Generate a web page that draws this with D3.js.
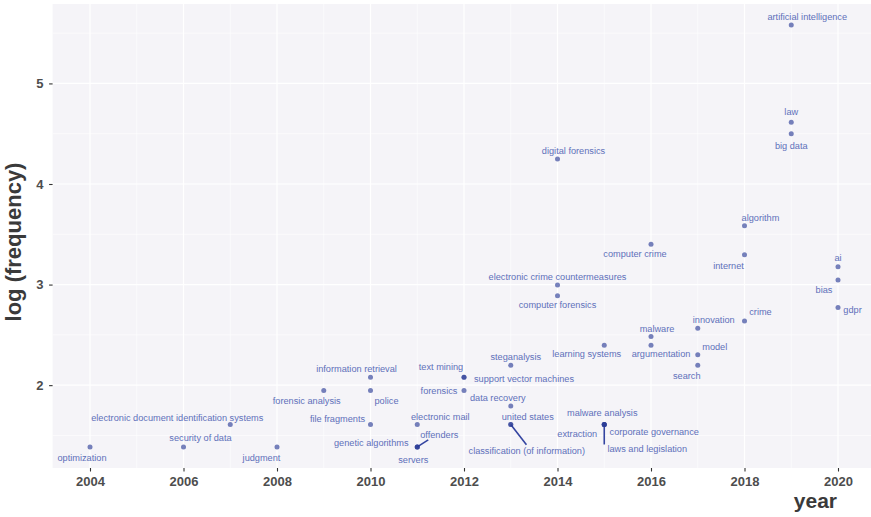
<!DOCTYPE html>
<html>
<head>
<meta charset="utf-8">
<script src="https://cdn.jsdelivr.net/npm/d3@7/dist/d3.min.js"></script>
<style>
  body { margin: 0; background: #ffffff; }
  svg { display: block; }
</style>
</head>
<body>
<svg id="chart" width="871" height="517"></svg>
<script>
// Keyword first appearance year and log(frequency)
const terms = [
  "optimization", "security of data", "electronic document identification systems", "judgment",
  "forensic analysis", "information retrieval", "police", "file fragments",
  "electronic mail", "genetic algorithms", "offenders", "servers",
  "text mining", "support vector machines", "forensics",
  "steganalysis", "data recovery", "united states", "classification (of information)",
  "digital forensics", "electronic crime countermeasures", "computer forensics",
  "learning systems", "malware analysis", "extraction", "corporate governance", "laws and legislation",
  "computer crime", "malware", "argumentation",
  "innovation", "model", "search",
  "algorithm", "internet", "crime",
  "artificial intelligence", "law", "big data",
  "ai", "bias", "gdpr"
];
const years = [
  2004, 2006, 2007, 2008,
  2009, 2010, 2010, 2010,
  2011, 2011, 2011, 2011,
  2012, 2012, 2012,
  2013, 2013, 2013, 2013,
  2014, 2014, 2014,
  2015, 2015, 2015, 2015, 2015,
  2016, 2016, 2016,
  2017, 2017, 2017,
  2018, 2018, 2018,
  2019, 2019, 2019,
  2020, 2020, 2020
];
const logFrequency = [
  1.386, 1.386, 1.609, 1.386,
  1.946, 2.079, 1.946, 1.609,
  1.609, 1.386, 1.386, 1.386,
  2.079, 2.079, 1.946,
  2.197, 1.792, 1.609, 1.609,
  4.248, 2.996, 2.890,
  2.398, 1.609, 1.609, 1.609, 1.609,
  3.401, 2.485, 2.398,
  2.565, 2.303, 2.197,
  3.584, 3.296, 2.639,
  5.580, 4.615, 4.500,
  3.178, 3.045, 2.773
];
const xTicks = [2004, 2006, 2008, 2010, 2012, 2014, 2016, 2018, 2020];
const yTicks = [2, 3, 4, 5];

// Label placement: offset of each label's centre from its point (px)
const labelOffsets = {
  "optimization": [-8, 11],
  "security of data": [17, -9],
  "electronic document identification systems": [-53, -7],
  "judgment": [-15.5, 11],
  "forensic analysis": [-17, 10],
  "information retrieval": [-14, -8],
  "police": [16, 10],
  "file fragments": [-33, -6],
  "electronic mail": [23, -8],
  "genetic algorithms": [-46, -4],
  "offenders": [22, -12],
  "servers": [-4, 13],
  "text mining": [-23, -10],
  "support vector machines": [60, 2],
  "forensics": [-25, 0],
  "steganalysis": [5, -9],
  "data recovery": [-13, -8],
  "united states": [17, -8],
  "classification (of information)": [16, 26.6],
  "digital forensics": [16, -8],
  "electronic crime countermeasures": [0, -8],
  "computer forensics": [0, 9.4],
  "learning systems": [-17.5, 9],
  "malware analysis": [-2, -12],
  "extraction": [-27, 9],
  "corporate governance": [50, 7],
  "laws and legislation": [43, 24],
  "computer crime": [-16, 10],
  "malware": [6, -8],
  "argumentation": [10, 9],
  "innovation": [16, -9],
  "model": [17, -8],
  "search": [-11, 10],
  "algorithm": [16, -8],
  "internet": [-16, 11],
  "crime": [16, -9],
  "artificial intelligence": [16, -8],
  "law": [0, -10],
  "big data": [0, 11.7],
  "ai": [0, -8.7],
  "bias": [-14, 10],
  "gdpr": [14.5, 2]
};
// Leader lines for labels pushed away from crowded points (end offset from point, px)
const leaderEnds = {
  "offenders": [11, -7],
  "classification (of information)": [15.7, 20.3],
  "laws and legislation": [0, 20]
};

const data = terms.map((t, i) => ({ term: t, year: years[i], value: logFrequency[i] }));

const svg = d3.select("#chart");
const panel = { left: 52.6, top: 4, right: 875.4, bottom: 468 };

// ggplot-style 5% expansion of the data range
function expand(ext, f) {
  const pad = (ext[1] - ext[0]) * f;
  return [ext[0] - pad, ext[1] + pad];
}
const x = d3.scaleLinear()
  .domain(expand(d3.extent(years), 0.05))
  .range([panel.left, panel.right]);
const y = d3.scaleLinear()
  .domain(expand(d3.extent(logFrequency), 0.05))
  .range([panel.bottom, panel.top]);

// Panel background
svg.append("rect")
  .attr("x", panel.left).attr("y", panel.top)
  .attr("width", panel.right - panel.left)
  .attr("height", panel.bottom - panel.top)
  .attr("fill", "#f5f4f8");

const grid = svg.append("g");
// Minor grid lines at midpoints between major breaks
const xMinor = d3.range(xTicks[0] - 1, xTicks[xTicks.length - 1] + 2, 2)
  .filter(v => x(v) >= panel.left && x(v) <= panel.right);
const yMinor = d3.range(yTicks[0] - 0.5, yTicks[yTicks.length - 1] + 1, 1)
  .filter(v => y(v) >= panel.top && y(v) <= panel.bottom);
grid.selectAll(".xminor").data(xMinor).join("line")
  .attr("x1", d => x(d)).attr("x2", d => x(d))
  .attr("y1", panel.top).attr("y2", panel.bottom)
  .attr("stroke", "#ffffff").attr("stroke-width", 0.6);
grid.selectAll(".yminor").data(yMinor).join("line")
  .attr("x1", panel.left).attr("x2", panel.right)
  .attr("y1", d => y(d)).attr("y2", d => y(d))
  .attr("stroke", "#ffffff").attr("stroke-width", 0.6);
grid.selectAll(".xmajor").data(xTicks).join("line")
  .attr("x1", d => x(d)).attr("x2", d => x(d))
  .attr("y1", panel.top).attr("y2", panel.bottom)
  .attr("stroke", "#ffffff").attr("stroke-width", 1.2);
grid.selectAll(".ymajor").data(yTicks).join("line")
  .attr("x1", panel.left).attr("x2", panel.right)
  .attr("y1", d => y(d)).attr("y2", d => y(d))
  .attr("stroke", "#ffffff").attr("stroke-width", 1.2);

// Axes
const xAxis = svg.append("g")
  .attr("transform", `translate(0,${panel.bottom})`)
  .call(d3.axisBottom(x).tickValues(xTicks).tickFormat(d3.format("d")).tickSize(3.5).tickPadding(5.5));
const yAxis = svg.append("g")
  .attr("transform", `translate(${panel.left},0)`)
  .call(d3.axisLeft(y).tickValues(yTicks).tickFormat(d3.format("d")).tickSize(3.5).tickPadding(5.5));
[xAxis, yAxis].forEach(g => {
  g.select(".domain").remove();
  g.selectAll(".tick line").attr("stroke", "#333333").attr("stroke-width", 1.1);
  g.selectAll(".tick text")
    .attr("fill", "#4d4d4d")
    .style("font-family", "'Liberation Sans', Arial, sans-serif")
    .style("font-size", "13px")
    .style("font-weight", "bold");
});

// Axis titles
svg.append("text")
  .attr("transform", "translate(21,242) rotate(-90)")
  .attr("text-anchor", "middle")
  .attr("fill", "#3a3a3a")
  .style("font-family", "'Liberation Sans', Arial, sans-serif")
  .style("font-size", "22px")
  .style("font-weight", "bold")
  .text("log (frequency)");
svg.append("text")
  .attr("x", 837).attr("y", 508)
  .attr("text-anchor", "end")
  .attr("fill", "#3a3a3a")
  .style("font-family", "'Liberation Sans', Arial, sans-serif")
  .style("font-size", "21px")
  .style("font-weight", "bold")
  .text("year");

const ink = "#2a3b96";

// Leader lines
svg.append("g").selectAll("line")
  .data(data.filter(d => leaderEnds[d.term]))
  .join("line")
  .attr("x1", d => x(d.year)).attr("y1", d => y(d.value))
  .attr("x2", d => x(d.year) + leaderEnds[d.term][0])
  .attr("y2", d => y(d.value) + leaderEnds[d.term][1])
  .attr("stroke", "#3444a0").attr("stroke-width", 1.6);

// Points (semi-transparent, so coincident keywords read darker)
svg.append("g").selectAll("circle")
  .data(data)
  .join("circle")
  .attr("cx", d => x(d.year))
  .attr("cy", d => y(d.value))
  .attr("r", 2.5)
  .attr("fill", ink)
  .attr("fill-opacity", 0.64);

// Keyword labels
svg.append("g").selectAll("text")
  .data(data)
  .join("text")
  .attr("x", d => x(d.year) + labelOffsets[d.term][0])
  .attr("y", d => y(d.value) + labelOffsets[d.term][1])
  .attr("dy", "0.35em")
  .attr("text-anchor", "middle")
  .attr("fill", "#6070ba")
  .style("font-family", "'Liberation Sans', Arial, sans-serif")
  .style("font-size", "9.2px")
  .text(d => d.term);
</script>
</body>
</html>
